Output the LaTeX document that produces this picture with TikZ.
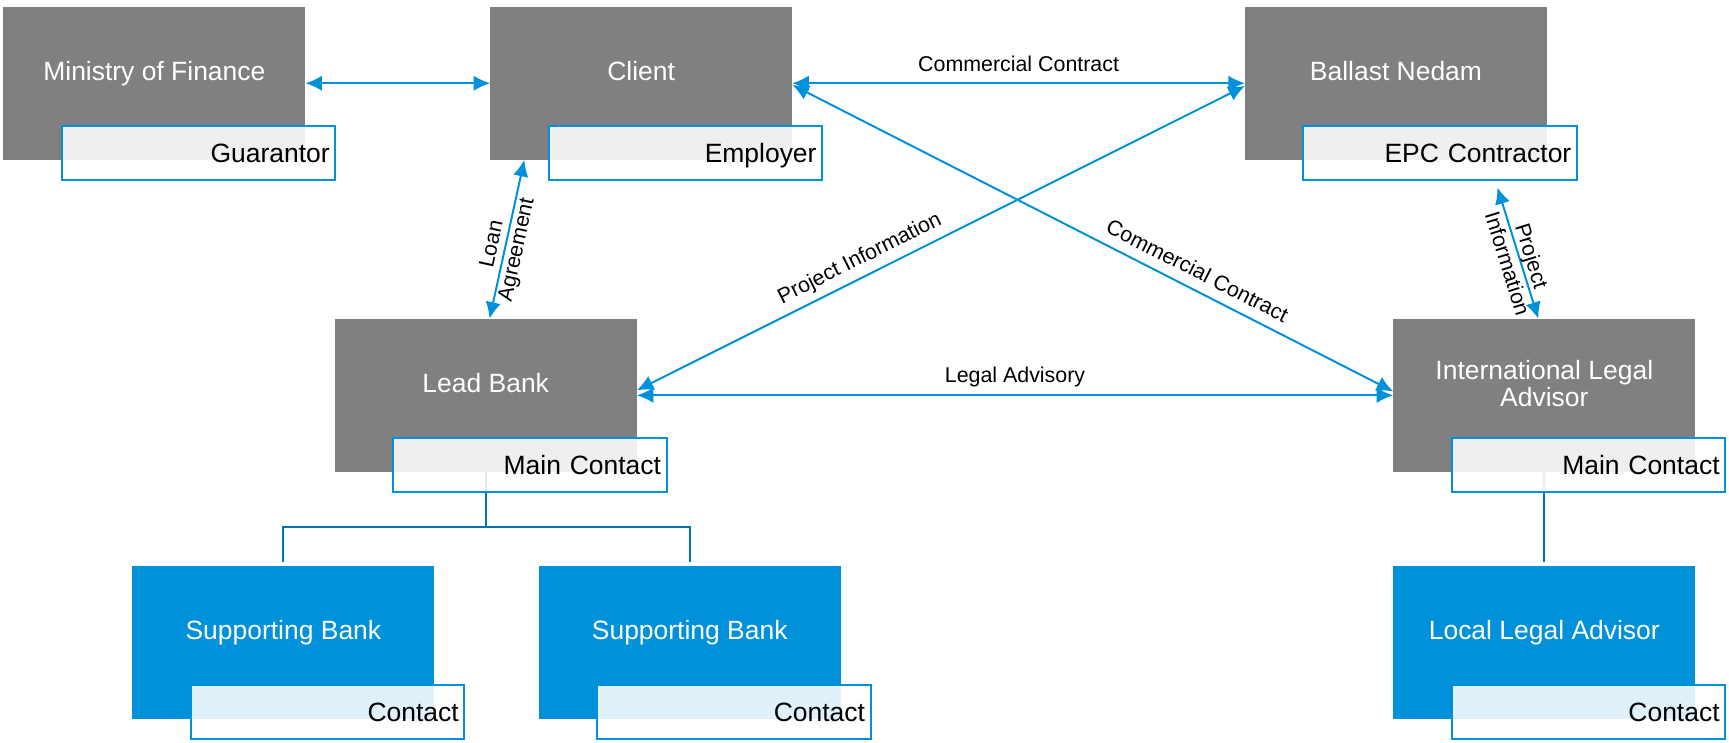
\documentclass[tikz,border=0pt]{standalone}
\usepackage{fontspec}
\setmainfont{Liberation Sans}
\usepackage{xcolor}
\usepackage{tikz}
\usetikzlibrary{arrows.meta}
\definecolor{boxgrey}{RGB}{128,128,128}
\definecolor{boxblue}{RGB}{0,145,218}
\definecolor{lineblue}{RGB}{0,145,218}
\definecolor{treeblue}{RGB}{0,115,178}

\begin{document}
\begin{tikzpicture}[x=0.5pt, y=-0.5pt,
	party/.style={fill=boxgrey, text=white, minimum width=137pt, minimum height=69.5pt, inner sep=0pt, outer sep=0pt, align=center, text height=9pt, text depth=11.5pt, font=\fontsize{12}{12.5}\selectfont},
	member/.style={party, fill=boxblue},
	tag/.style={draw=lineblue, line width=0.9pt, fill=white, fill opacity=0.88, text opacity=1, text=black, text width=119pt, align=right, inner xsep=2.5pt, inner ysep=0pt, minimum height=24.5pt, outer sep=0pt, text height=9pt, text depth=0.5pt, anchor=north west, xshift=26.5pt, yshift=15.5pt, font=\fontsize{12}{14}\selectfont},
	link/.style={{Latex[length=7.5pt,width=7pt]}-{Latex[length=7.5pt,width=7pt]}, draw=lineblue, line width=0.9pt},
	tree/.style={draw=treeblue, line width=1pt},
	note/.style={font=\fontsize{9.7}{11.5}\selectfont, inner sep=2pt, text=black}]
	\useasboundingbox (0,0) rectangle (1568,673);
	
	% Nodes
	\node[party] (mof) at (140,75.5) {Ministry of Finance};
	\node[party] (client) at (581.5,75.5) {Client};
	\node[party] (ballast) at (1266,75.5) {Ballast Nedam};
	\node[party] (lead) at (440.5,358.5) {Lead Bank};
	\node[party, text height=21.5pt, text depth=11pt] (ila) at (1400.5,358.5) {International Legal\\Advisor};
	\node[member] (sb1) at (257,582.5) {Supporting Bank};
	\node[member] (sb2) at (625.5,582.5) {Supporting Bank};
	\node[member] (lla) at (1400.5,582.5) {Local Legal Advisor};
	
	% Reporting lines
	\draw[tree] (lead.south) -- ++(0,-25pt) -| ([yshift=1.5pt]sb1.north);
	\draw[tree] (lead.south) -- ++(0,-25pt) -| ([yshift=1.5pt]sb2.north);
	\draw[tree] (ila.south) -- ([yshift=1.5pt]lla.north);
	
	% Roles
	\node[tag] (mofT) at (mof.south west) {Guarantor};
	\node[tag] (clientT) at (client.south west) {Employer};
	\node[tag] (ballastT) at (ballast.south west) {EPC Contractor};
	\node[tag] (leadT) at (lead.south west) {Main Contact};
	\node[tag] (ilaT) at (ila.south west) {Main Contact};
	\node[tag] (sb1T) at (sb1.south west) {Contact};
	\node[tag] (sb2T) at (sb2.south west) {Contact};
	\node[tag] (llaT) at (lla.south west) {Contact};
	
	% Edges with labels
	\draw[link] (mof.east) -- (client.west);
	\draw[link] (client.east) -- (ballast.west) node[note, midway, above=3pt] {Commercial Contract};
	\draw[link] ([yshift=-0.75pt]client.east) -- ([yshift=1.75pt]ila.west) node[note, pos=0.66, sloped, above=2.5pt] {Commercial Contract};
	\draw[link] ([yshift=-1.25pt]ballast.west) -- ([yshift=2.25pt]lead.east) node[note, pos=0.62, sloped, above=1pt] {Project Information};
	\draw[link] (lead.east) -- (ila.west) node[note, midway, above=1.3pt] {Legal Advisory};
	\draw[link] ([xshift=15.5pt]client.south west) -- ([xshift=1.75pt]lead.north) node[note, pos=0.55, sloped, align=center] {Loan\\Agreement};
	\draw[link] ([xshift=46pt,yshift=-12.5pt]ballast.south) -- ([xshift=-2.75pt]ila.north) node[note, pos=0.55, sloped, align=center] {Project\\Information};
	
\end{tikzpicture}
\end{document}
